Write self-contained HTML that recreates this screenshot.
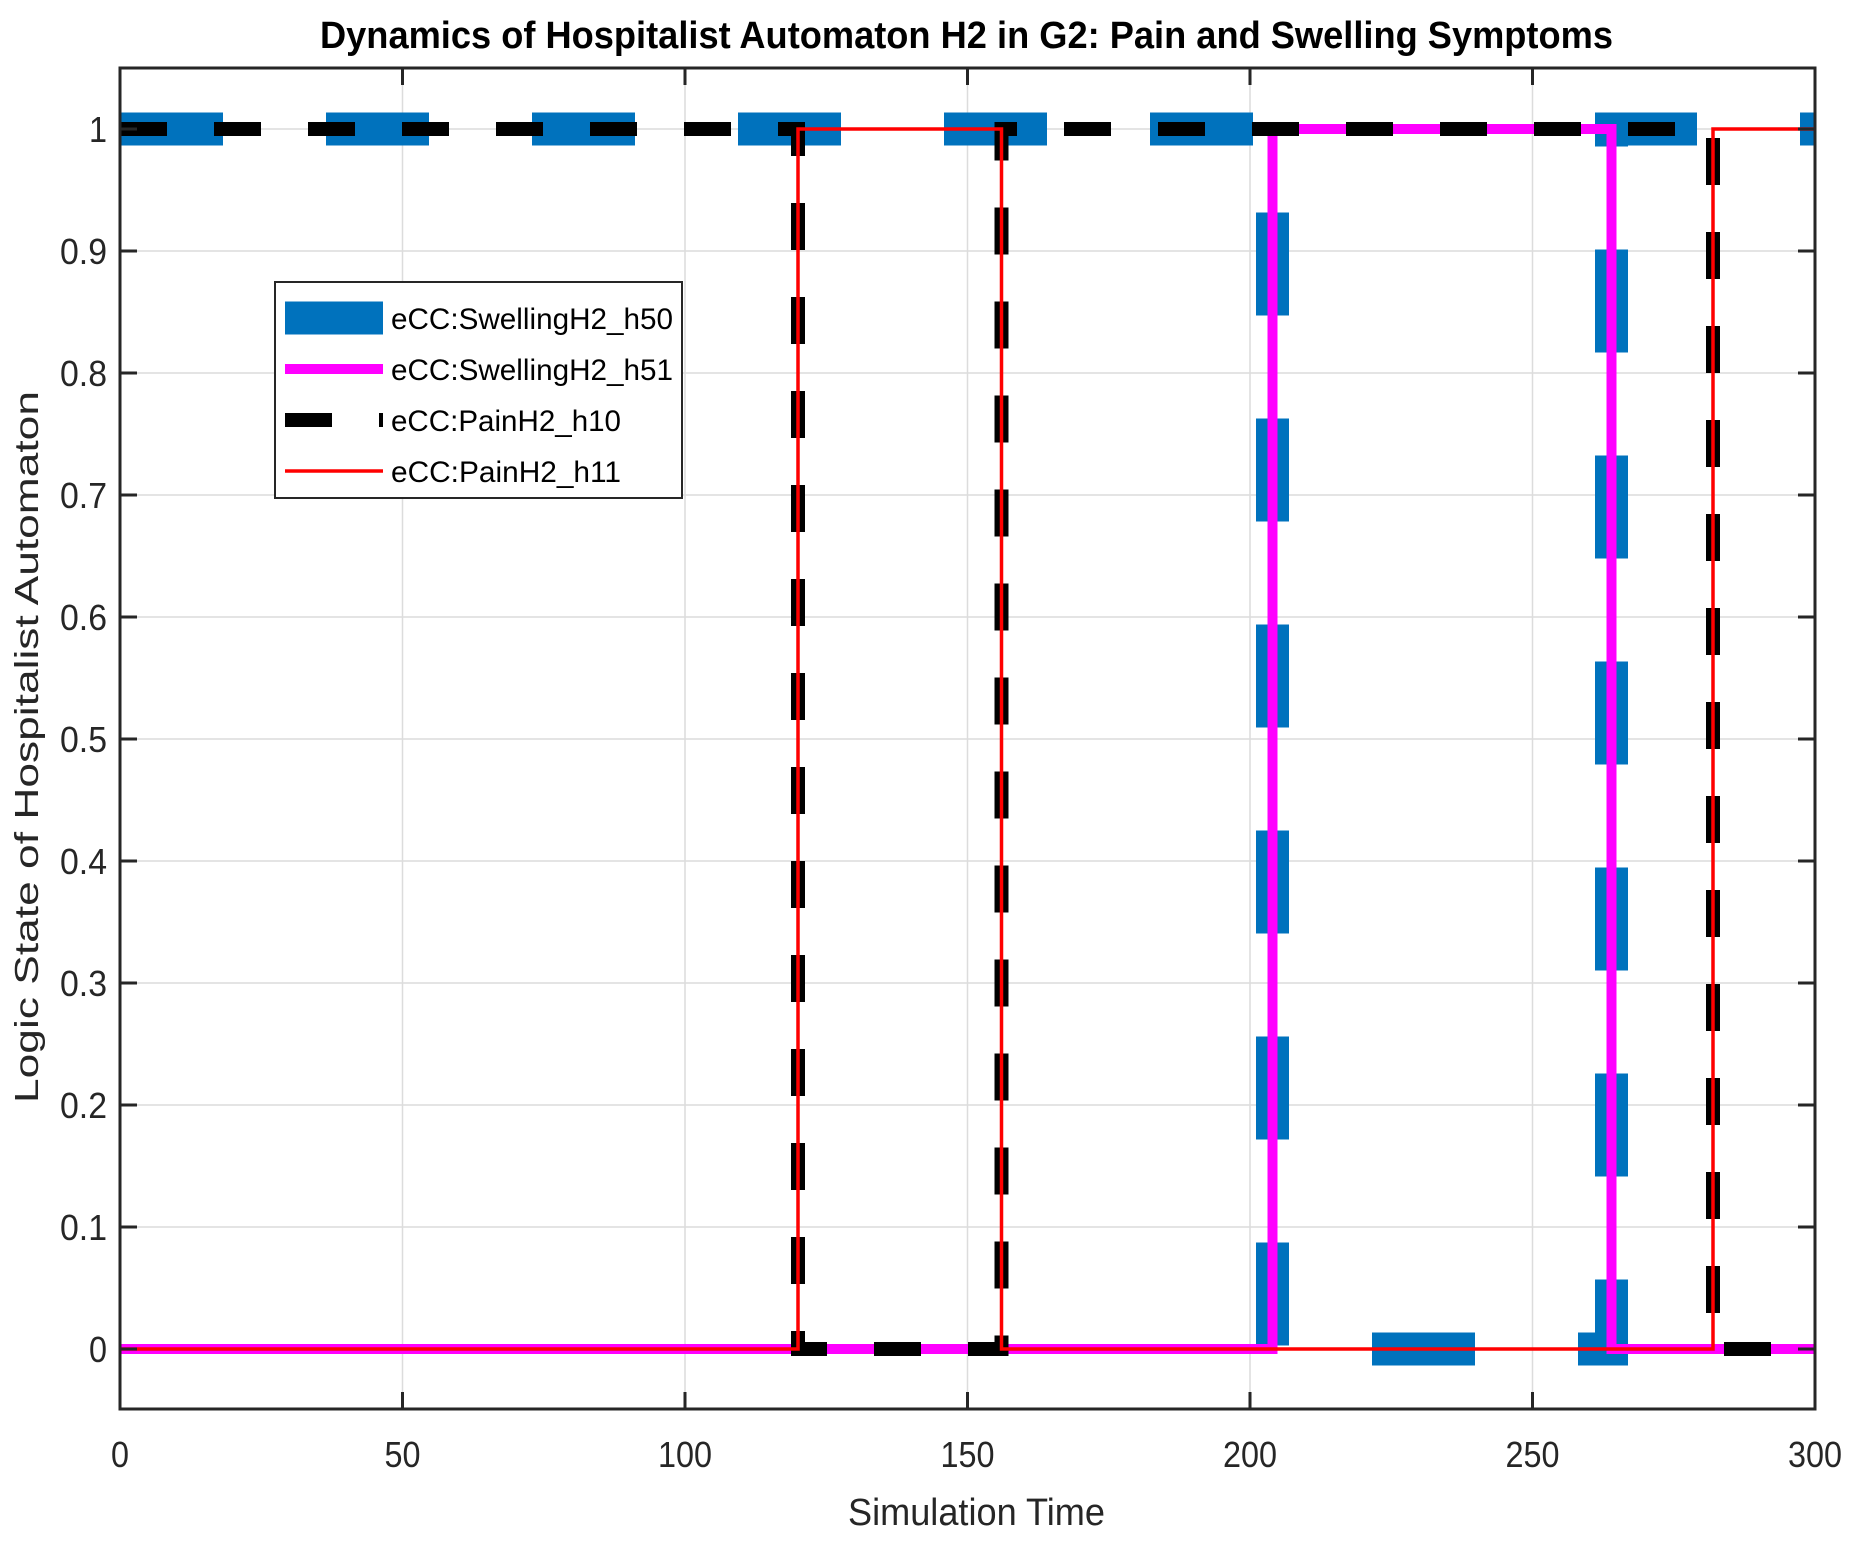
<!DOCTYPE html>
<html><head><meta charset="utf-8"><style>body{margin:0;background:#fff}svg{display:block}</style></head><body>
<svg width="1859" height="1541" viewBox="0 0 1859 1541" xmlns="http://www.w3.org/2000/svg" font-family="Liberation Sans, sans-serif">
<rect width="1859" height="1541" fill="#fff"/>
<g stroke="#dcdcdc" stroke-width="1.5">
<line x1="402.5" y1="68" x2="402.5" y2="1409"/><line x1="685" y1="68" x2="685" y2="1409"/><line x1="967.5" y1="68" x2="967.5" y2="1409"/><line x1="1250" y1="68" x2="1250" y2="1409"/><line x1="1532.5" y1="68" x2="1532.5" y2="1409"/>
<line x1="120" y1="1349" x2="1815" y2="1349"/><line x1="120" y1="1227" x2="1815" y2="1227"/><line x1="120" y1="1105" x2="1815" y2="1105"/><line x1="120" y1="983" x2="1815" y2="983"/><line x1="120" y1="861" x2="1815" y2="861"/><line x1="120" y1="739" x2="1815" y2="739"/><line x1="120" y1="617" x2="1815" y2="617"/><line x1="120" y1="495" x2="1815" y2="495"/><line x1="120" y1="373" x2="1815" y2="373"/><line x1="120" y1="251" x2="1815" y2="251"/><line x1="120" y1="129" x2="1815" y2="129"/>
</g>
<polyline fill="none" stroke="#0072bd" stroke-width="33" stroke-dasharray="103 103" points="120,129 1272.5,129 1272.5,1349 1611.5,1349 1611.5,129 1815,129"/>
<polyline fill="none" stroke="#ff00ff" stroke-width="10" points="120,1349 1272.5,1349 1272.5,129 1611.5,129 1611.5,1349 1815,1349"/>
<polyline fill="none" stroke="#000" stroke-width="14" stroke-dasharray="47 47" points="120,129 798,129 798,1349 1001.5,1349 1001.5,129 1713,129 1713,1349 1815,1349"/>
<polyline fill="none" stroke="#ff0000" stroke-width="3.5" points="120,1349 798,1349 798,129 1001.5,129 1001.5,1349 1713,1349 1713,129 1815,129"/>
<rect x="120" y="68" width="1695" height="1341" fill="none" stroke="#262626" stroke-width="3"/>
<g stroke="#262626" stroke-width="3">
<line x1="402.5" y1="1409" x2="402.5" y2="1392"/><line x1="685" y1="1409" x2="685" y2="1392"/><line x1="967.5" y1="1409" x2="967.5" y2="1392"/><line x1="1250" y1="1409" x2="1250" y2="1392"/><line x1="1532.5" y1="1409" x2="1532.5" y2="1392"/>
<line x1="402.5" y1="68" x2="402.5" y2="85"/><line x1="685" y1="68" x2="685" y2="85"/><line x1="967.5" y1="68" x2="967.5" y2="85"/><line x1="1250" y1="68" x2="1250" y2="85"/><line x1="1532.5" y1="68" x2="1532.5" y2="85"/>
<path d="M120 1349h17M120 1227h17M120 1105h17M120 983h17M120 861h17M120 739h17M120 617h17M120 495h17M120 373h17M120 251h17M120 129h17"/>
<path d="M1815 1349h-17M1815 1227h-17M1815 1105h-17M1815 983h-17M1815 861h-17M1815 739h-17M1815 617h-17M1815 495h-17M1815 373h-17M1815 251h-17M1815 129h-17"/>
</g>
<g fill="#262626" font-size="36" text-anchor="middle" lengthAdjust="spacingAndGlyphs">
<text x="120" y="1467" textLength="18" lengthAdjust="spacingAndGlyphs">0</text><text x="402.5" y="1467" textLength="36" lengthAdjust="spacingAndGlyphs">50</text><text x="685" y="1467" textLength="54" lengthAdjust="spacingAndGlyphs">100</text><text x="967.5" y="1467" textLength="54" lengthAdjust="spacingAndGlyphs">150</text><text x="1250" y="1467" textLength="54" lengthAdjust="spacingAndGlyphs">200</text><text x="1532.5" y="1467" textLength="54" lengthAdjust="spacingAndGlyphs">250</text><text x="1815" y="1467" textLength="54" lengthAdjust="spacingAndGlyphs">300</text>
</g>
<g fill="#262626" font-size="36" text-anchor="end">
<text x="107" y="1362" textLength="18" lengthAdjust="spacingAndGlyphs">0</text><text x="107" y="1240" textLength="47" lengthAdjust="spacingAndGlyphs">0.1</text><text x="107" y="1118" textLength="47" lengthAdjust="spacingAndGlyphs">0.2</text><text x="107" y="996" textLength="47" lengthAdjust="spacingAndGlyphs">0.3</text><text x="107" y="874" textLength="47" lengthAdjust="spacingAndGlyphs">0.4</text><text x="107" y="752" textLength="47" lengthAdjust="spacingAndGlyphs">0.5</text><text x="107" y="630" textLength="47" lengthAdjust="spacingAndGlyphs">0.6</text><text x="107" y="508" textLength="47" lengthAdjust="spacingAndGlyphs">0.7</text><text x="107" y="386" textLength="47" lengthAdjust="spacingAndGlyphs">0.8</text><text x="107" y="264" textLength="47" lengthAdjust="spacingAndGlyphs">0.9</text><text x="107" y="142" textLength="18" lengthAdjust="spacingAndGlyphs">1</text>
</g>
<text x="848" y="1525" font-size="38" fill="#262626" textLength="257" lengthAdjust="spacingAndGlyphs">Simulation Time</text>
<text transform="translate(38,1103) rotate(-90)" font-size="33" fill="#262626" textLength="712" lengthAdjust="spacingAndGlyphs">Logic State of Hospitalist Automaton</text>
<text x="320" y="48" font-size="38" font-weight="bold" fill="#000" textLength="1293" lengthAdjust="spacingAndGlyphs">Dynamics of Hospitalist Automaton H2 in G2: Pain and Swelling Symptoms</text>
<rect x="275" y="282" width="407" height="216" fill="#fff" stroke="#262626" stroke-width="2"/>
<line x1="285" y1="318" x2="383" y2="318" stroke="#0072bd" stroke-width="33"/>
<line x1="285" y1="369" x2="383" y2="369" stroke="#ff00ff" stroke-width="10"/>
<line x1="285" y1="420" x2="383" y2="420" stroke="#000" stroke-width="14" stroke-dasharray="47 47"/>
<line x1="285" y1="471" x2="383" y2="471" stroke="#ff0000" stroke-width="3.5"/>
<g font-size="30" fill="#000">
<text x="391" y="329" textLength="282" lengthAdjust="spacingAndGlyphs">eCC:SwellingH2_h50</text>
<text x="391" y="380" textLength="282" lengthAdjust="spacingAndGlyphs">eCC:SwellingH2_h51</text>
<text x="391" y="431" textLength="230" lengthAdjust="spacingAndGlyphs">eCC:PainH2_h10</text>
<text x="391" y="482" textLength="230" lengthAdjust="spacingAndGlyphs">eCC:PainH2_h11</text>
</g>
</svg>
</body></html>
